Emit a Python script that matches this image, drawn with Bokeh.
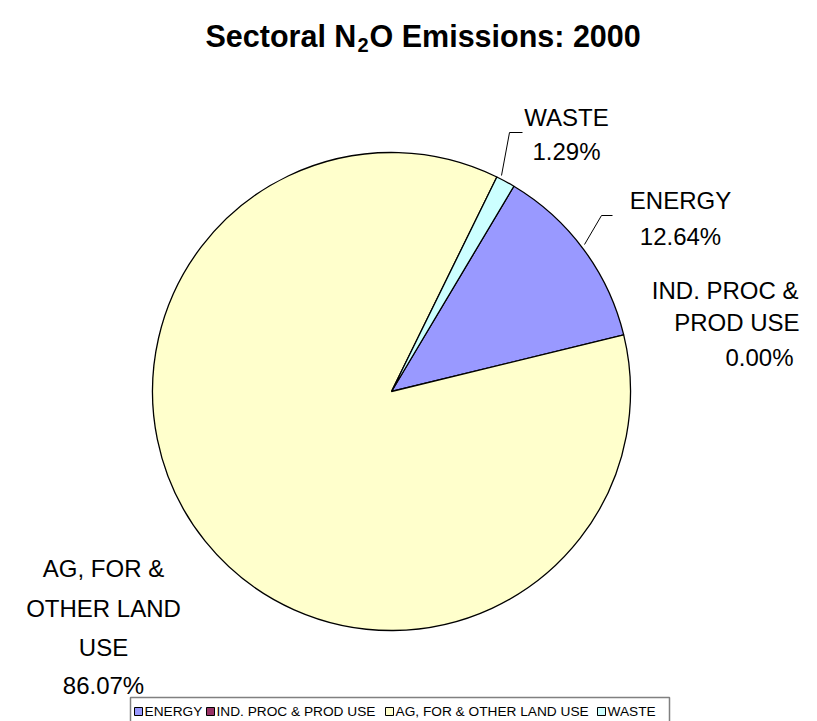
import math
from bokeh.plotting import figure
from bokeh.models import Range1d, ColumnDataSource
from bokeh.core.properties import value
from bokeh.embed import file_html
from bokeh.resources import INLINE

# ---- data ----
categories = ["ENERGY", "IND. PROC & PROD USE", "AG, FOR & OTHER LAND USE", "WASTE"]
percents = [12.64, 0.00, 86.07, 1.29]
colors = ["#9999FF", "#993366", "#FFFFCC", "#CCFFFF"]
label_lines = [["ENERGY", "12.64%"], ["IND. PROC &", "PROD USE", "0.00%"],
               ["AG, FOR &", "OTHER LAND", "USE", "86.07%"], ["WASTE", "1.29%"]]
title_parts = ["Sectoral N", "2", "O Emissions: 2000"]

W, H = 817, 721
FONT = "Liberation Sans"

# page-pixel coordinates: x = screen x, y = -screen y
p = figure(width=W, height=H, output_backend="svg", toolbar_location=None,
           x_range=Range1d(0, W), y_range=Range1d(-H, 0),
           min_border=0, outline_line_color=None, background_fill_color="white")
p.axis.visible = False
p.xgrid.visible = False
p.ygrid.visible = False

# ---- pie ----
cx, cy, r = 391, -391, 239
first_angle = 59.2  # degrees (math convention), slices go clockwise
starts, ends = [], []
a = first_angle
for v in percents:
    starts.append(math.radians(a))
    a -= v / 100.0 * 360.0
    ends.append(math.radians(a))
idx = [i for i, v in enumerate(percents) if v > 0]
src = ColumnDataSource(dict(
    start=[starts[i] for i in idx], end=[ends[i] for i in idx],
    color=[colors[i] for i in idx], cat=[categories[i] for i in idx]))
p.wedge(x=cx, y=cy, radius=r, start_angle="start", end_angle="end",
        direction="clock", fill_color="color", line_color="black",
        line_width=1.3, source=src)

# ---- leader lines ----
p.line(x=[501, 509, 522], y=[-175, -132, -132], line_color="black", line_width=1)
p.line(x=[584, 601, 612], y=[-244, -215, -215], line_color="black", line_width=1)

# ---- data labels ----
lab_pos = {
    0: (680, [-200, -236], "center"),
    3: (566, [-117, -151], "center"),
    2: (103, [-568, -608, -647, -685], "center"),
}
for i, (x, ys, al) in lab_pos.items():
    p.text(x=[x] * len(ys), y=ys, text=label_lines[i], text_font=value(FONT),
           text_font_size="24px", text_align=al, text_baseline="middle",
           text_color="black")
p.text(x=[798, 799, 793], y=[-290, -322, -357], text=label_lines[1],
       text_font=value(FONT), text_font_size="24px", text_align="right",
       text_baseline="middle", text_color="black")

# ---- title with subscript ----
tx, ty = 205, -35
p.text(x=[tx], y=[ty], text=[title_parts[0]], text_font=value(FONT),
       text_font_style="bold", text_font_size="30.5px", text_align="left",
       text_baseline="middle")
p.text(x=[tx + 152], y=[ty - 9], text=[title_parts[1]], text_font=value(FONT),
       text_font_style="bold", text_font_size="20px", text_align="left",
       text_baseline="middle")
p.text(x=[tx + 164], y=[ty], text=[title_parts[2]], text_font=value(FONT),
       text_font_style="bold", text_font_size="30.5px", text_align="left",
       text_baseline="middle")

# ---- legend ----
p.quad(left=[130], right=[669], top=[-697], bottom=[-735], fill_color="white",
       line_color="#808080", line_width=1.5)
sq_x = [138, 210, 389, 601]
ly = -711
p.rect(x=sq_x, y=[ly] * 4, width=8, height=8, fill_color=colors,
       line_color="black", line_width=1)
p.text(x=[s + 6 for s in sq_x], y=[ly] * 4, text=categories, text_font=value(FONT),
       text_font_size="13.7px", text_align="left", text_baseline="middle",
       text_color="black")

open("out.html", "w").write(file_html(p, INLINE))
